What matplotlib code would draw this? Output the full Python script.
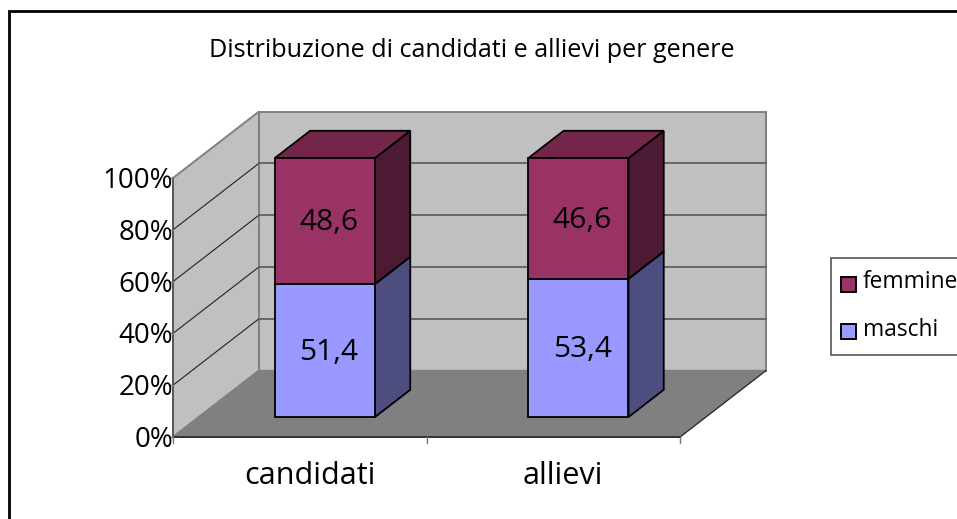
import matplotlib
matplotlib.use("Agg")
import matplotlib.pyplot as plt
from matplotlib.patches import Polygon, Rectangle

categories = ["candidati", "allievi"]
maschi = [51.4, 53.4]
femmine = [48.6, 46.6]
y_ticks = [0, 20, 40, 60, 80, 100]
chart_title = "Distribuzione di candidati e allievi per genere"

FONT = "Open Sans"
W, H = 957, 519


# category position, percent and depth (0 front, 1 back wall) -> pixels
def proj(x, pct, d=0.0):
    return (173 + x * 253.5 + d * 86, 437 - pct * 2.59 - d * 66.5)


def face(ax, pts, color, ec="black", lw=1.3, z=2):
    ax.add_patch(Polygon(pts, closed=True, fc=color, ec=ec, lw=lw, zorder=z, joinstyle="miter"))


def draw_box(ax, x0, x1, y0, y1, d0, d1, front, side, top):
    # side, then top, then front so edges overlap the way the original does
    face(ax, [proj(x1, y0, d0), proj(x1, y0, d1), proj(x1, y1, d1), proj(x1, y1, d0)], side, z=3)
    face(ax, [proj(x0, y1, d0), proj(x0, y1, d1), proj(x1, y1, d1), proj(x1, y1, d0)], top, z=3)
    face(ax, [proj(x0, y0, d0), proj(x1, y0, d0), proj(x1, y1, d0), proj(x0, y1, d0)], front, z=4)


fig = plt.figure(figsize=(W / 100, H / 100), dpi=100)
ax = fig.add_axes([0, 0, 1, 1])
ax.set_xlim(0, W)
ax.set_ylim(H, 0)
ax.axis("off")

# outer frame: only left and top fall inside the crop
ax.plot([9, 9, W], [H, 10.5, 10.5], color="black", lw=2.0, zorder=0, solid_joinstyle="miter")

n = len(categories)

# walls and floor
wall_c = "#c0c0c0"
edge_c = "#808080"
face(ax, [proj(0, 0), proj(0, 0, 1), proj(0, 100, 1), proj(0, 100)], wall_c, ec=edge_c, lw=1.4, z=1)
face(ax, [proj(0, 0, 1), proj(n, 0, 1), proj(n, 100, 1), proj(0, 100, 1)], wall_c, ec=edge_c, lw=1.4, z=1)
face(ax, [proj(0, 0), proj(n, 0), proj(n, 0, 1), proj(0, 0, 1)], "#808080", ec="#808080", lw=1.0, z=1)

# gridlines
for t in y_ticks[1:-1]:
    p0, p1, p2 = proj(0, t), proj(0, t, 1), proj(n, t, 1)
    ax.plot([p0[0], p1[0]], [p0[1], p1[1]], color="#222222", lw=0.8, zorder=2)
    ax.plot([p1[0], p2[0]], [p1[1], p2[1]], color="#606060", lw=1.3, zorder=2)

# floor edges and axes
p0, p1, p2 = proj(0, 0), proj(n, 0), proj(n, 0, 1)
ax.plot([p0[0], p1[0]], [p0[1], p1[1]], color="#333333", lw=1.4, zorder=2)
ax.plot([p1[0], p2[0]], [p1[1], p2[1]], color="#222222", lw=0.8, zorder=2)
p3 = proj(0, 100)
ax.plot([p0[0], p3[0]], [p0[1], p3[1]], color="#555555", lw=1.3, zorder=2)

# ticks and labels
for t in y_ticks:
    px, py = proj(0, t)
    ax.plot([px - 4, px], [py, py], color="#808080", lw=1.0, zorder=2)
    ax.text(px, py + 3, f"{t}%", ha="right", va="center", fontsize=20,
            family=FONT, color="black", zorder=5)
for i in range(n + 1):
    px, py = proj(i, 0)
    ax.plot([px, px], [py, py + 6], color="#777777", lw=1.0, zorder=2)

# bars
bar_l, bar_r = 0.30, 0.695
d_front, d_back = 0.30, 0.71
for i, cat in enumerate(categories):
    a, b = maschi[i], femmine[i]
    draw_box(ax, i + bar_l, i + bar_r, 0, a, d_front, d_back, "#9999ff", "#4d4d80", "#4d4d80")
    draw_box(ax, i + bar_l, i + bar_r, a, a + b, d_front, d_back, "#993366", "#4d1a33", "#732649")
    cx = proj(i + (bar_l + bar_r) / 2, 0, d_front)[0]
    ax.text(cx + 4, proj(0, a / 2, d_front)[1] + 2, f"{a:.1f}".replace(".", ","), ha="center", va="center",
            fontsize=21.5, family=FONT, zorder=6)
    ax.text(cx + 4, proj(0, a + b / 2, d_front)[1] + 2, f"{b:.1f}".replace(".", ","), ha="center", va="center",
            fontsize=21.5, family=FONT, zorder=6)
    lx = proj(i + 0.5, 0)[0]
    ax.text(lx + 10, 476, cat, ha="center", va="center", fontsize=22, family=FONT, zorder=6)

ax.text(472, 57, chart_title, ha="center", va="baseline", fontsize=18.1, family=FONT)

# legend, cut off by the right edge
ax.add_patch(Rectangle((831, 258), 140, 97, fc="white", ec="#555555", lw=1.2, zorder=2))
for yy, col, name in [(284, "#993366", "femmine"), (331.5, "#9999ff", "maschi")]:
    ax.add_patch(Rectangle((841, yy - 7.5), 15, 15, fc=col, ec="black", lw=1.4, zorder=3))
    ax.text(863, yy - 2, name, ha="left", va="center", fontsize=16.4, family=FONT, zorder=3)

fig.savefig("out.png", dpi=100)
